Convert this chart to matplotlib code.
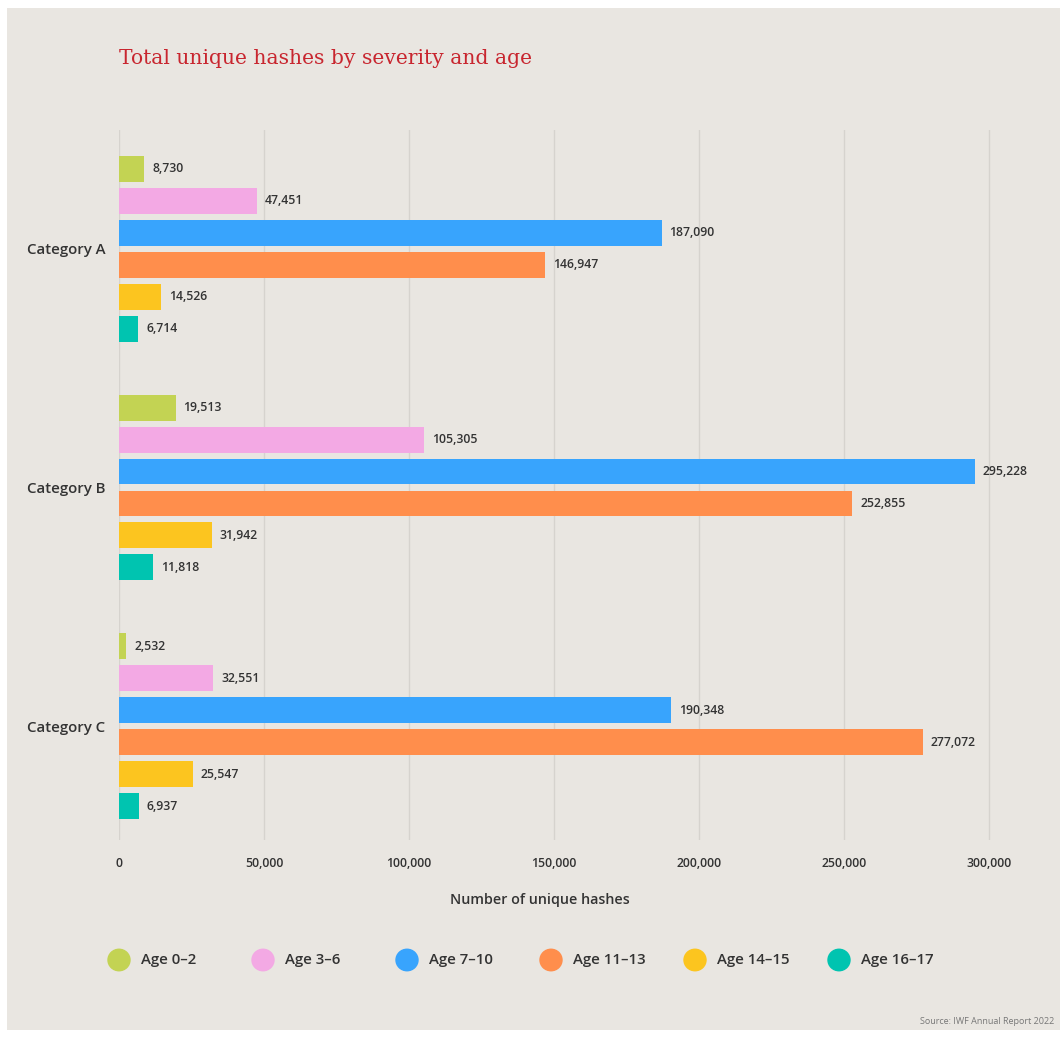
import matplotlib.pyplot as plt
from matplotlib.patches import Rectangle
from matplotlib.ticker import FuncFormatter
import numpy as np

# data
categories = ["Category A", "Category B", "Category C"]
ages = ["Age 0\u20132", "Age 3\u20136", "Age 7\u201310", "Age 11\u201313", "Age 14\u201315", "Age 16\u201317"]
age_0_2 = [8730, 19513, 2532]
age_3_6 = [47451, 105305, 32551]
age_7_10 = [187090, 295228, 190348]
age_11_13 = [146947, 252855, 277072]
age_14_15 = [14526, 31942, 25547]
age_16_17 = [6714, 11818, 6937]
series = [age_0_2, age_3_6, age_7_10, age_11_13, age_14_15, age_16_17]
colors = ["#C3D353", "#F3A9E4", "#38A4FD", "#FF8E4C", "#FCC51F", "#00C4B0"]

BG = "#E9E6E1"
TXT = "#333333"
plt.rcParams["font.family"] = ["Open Sans", "DejaVu Sans"]
plt.rcParams["font.weight"] = "semibold"

W, H = 1063, 1038
fig = plt.figure(figsize=(W / 100, H / 100), dpi=100, facecolor="white")
fig.patches.append(Rectangle((7 / W, 8 / H), (1060 - 7) / W, (1030 - 8) / H,
                             transform=fig.transFigure, facecolor=BG,
                             edgecolor="none", zorder=-10))

ax = fig.add_axes([119 / W, (H - 840) / H, (1047 - 119) / W, 710 / H])
ax.set_facecolor("none")
ax.set_zorder(2)

group_gap = 239 / 32
centers = np.arange(len(categories)) * group_gap
offsets = np.arange(len(ages)) - 2.5

for i, (vals, c) in enumerate(zip(series, colors)):
    y = centers + offsets[i]
    ax.barh(y, vals, height=0.81, color=c, zorder=3)
    for yy, v in zip(y, vals):
        ax.text(v + 2700, yy, f"{v:,}", va="center", ha="left",
                fontsize=8.8, color=TXT, zorder=4)

ax.set_xlim(0, 320000)
ax.set_ylim(centers[-1] + 2.5 + 34 / 32, -2.5 - 39 / 32)
ax.set_xticks(np.arange(0, 300001, 50000))
ax.xaxis.set_major_formatter(FuncFormatter(lambda v, p: f"{int(v):,}"))
ax.tick_params(axis="x", length=0, pad=12, labelsize=8.8, labelcolor=TXT)
ax.set_yticks(centers)
ax.set_yticklabels(categories)
ax.tick_params(axis="y", length=0, pad=10, labelsize=10.8, labelcolor=TXT)
ax.grid(axis="x", color="#D6D3CE", linewidth=1, zorder=0)
for s in ax.spines.values():
    s.set_visible(False)

fig.text(119 / W, 1 - 58 / H, "Total unique hashes by severity and age",
         family="DejaVu Serif", fontweight="normal", fontsize=14.6,
         color="#C8262F", va="center")
fig.text(540 / W, 1 - 900 / H, "Number of unique hashes", fontsize=10.3,
         color=TXT, ha="center", va="center")

# legend row
for i, (lab, c) in enumerate(zip(ages, colors)):
    x = 119 + i * 144
    fig.patches.append(plt.Circle((x / W, 1 - 960 / H), 11 / W,
                                  transform=fig.transFigure, color=c))
    fig.text((x + 22) / W, 1 - 960 / H, lab, fontsize=10.8, color=TXT,
             va="center", ha="left")

fig.text(1054 / W, 1 - 1022 / H, "Source: IWF Annual Report 2022",
         fontsize=6.5, fontweight="normal", color="#777777", ha="right",
         va="center")

fig.savefig("out.png", dpi=100, facecolor=fig.get_facecolor())
